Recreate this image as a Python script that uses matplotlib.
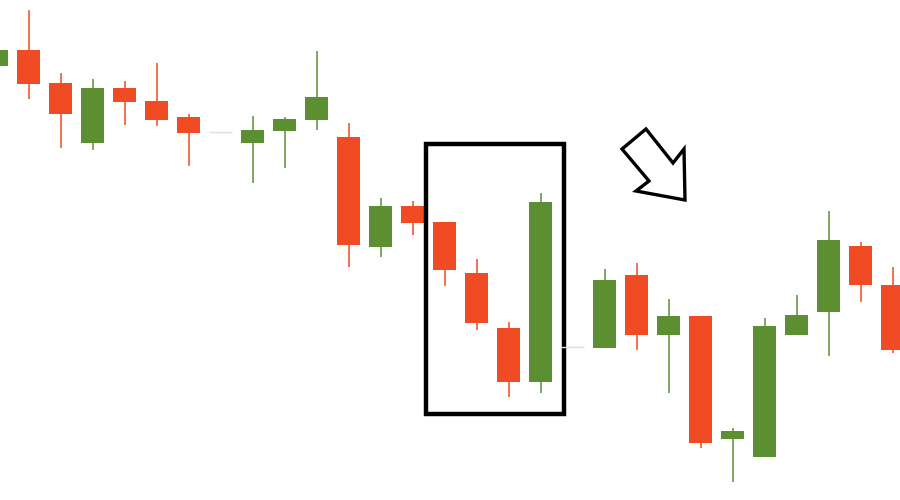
import numpy as np
import matplotlib
matplotlib.use("Agg")
from matplotlib import pyplot as plt
from matplotlib.patches import Rectangle, Polygon

# candle data (open, high, low, close), left to right
opens  = [434, 450, 417, 357, 412, 399, 383, 368, 357, 369, 380, 363, 253, 294, 278,
          227, 172, 118, 153, 152, 225, 165, 184, 61, 43, 165, 188, 254, 215]
highs  = [450, 490, 427, 421, 419, 437, 386, 368, 384, 383, 449, 377, 302, 299, 278,
          241, 178, 307, 153, 231, 237, 201, 184, 72, 182, 205, 289, 258, 233]
lows   = [434, 401, 352, 350, 375, 374, 334, 368, 317, 332, 370, 233, 243, 265, 214,
          170, 103, 107, 153, 152, 150, 107, 52, 18, 43, 165, 144, 198, 147]
closes = [450, 416, 386, 412, 398, 380, 367, 368, 370, 381, 403, 255, 294, 277, 230,
          177, 118, 298, 153, 220, 165, 184, 57, 69, 174, 185, 260, 215, 150]

up_color = "#5b8f31"
down_color = "#f04b23"
doji_color = "#dddddd"
width = 0.72

fig = plt.figure(figsize=(9, 5), dpi=100)
ax = fig.add_axes([0, 0, 1, 1])

for i in range(len(opens)):
    o, h, l, c = opens[i], highs[i], lows[i], closes[i]
    if o == c:
        ax.hlines(o, i - width / 2, i + width / 2, color=doji_color, lw=1)
        continue
    col = up_color if c > o else down_color
    ax.vlines(i, l, h, color=col, lw=1.1)
    ax.add_patch(Rectangle((i - width / 2, min(o, c)), width, abs(c - o),
                           facecolor=col, edgecolor="none"))

# highlight box around the pattern
ax.add_patch(Rectangle((13.42, 86), 4.31, 270, fill=False, edgecolor="black", lw=3.2))

# hollow arrow pointing down-right
arrow_px = [(646, 129), (622, 149), (649, 181), (636, 191),
            (685, 200), (684, 149), (673, 163)]
arrow_pts = [((x + 3.5) / 32, 500 - y) for x, y in arrow_px]
ax.add_patch(Polygon(arrow_pts, closed=True, fill=False, edgecolor="black",
                     lw=2.4, joinstyle="miter"))

ax.set_xlim(3.5 / 32, 903.5 / 32)
ax.set_ylim(0, 500)
ax.axis("off")

fig.savefig("out.png", dpi=100, facecolor="white")
